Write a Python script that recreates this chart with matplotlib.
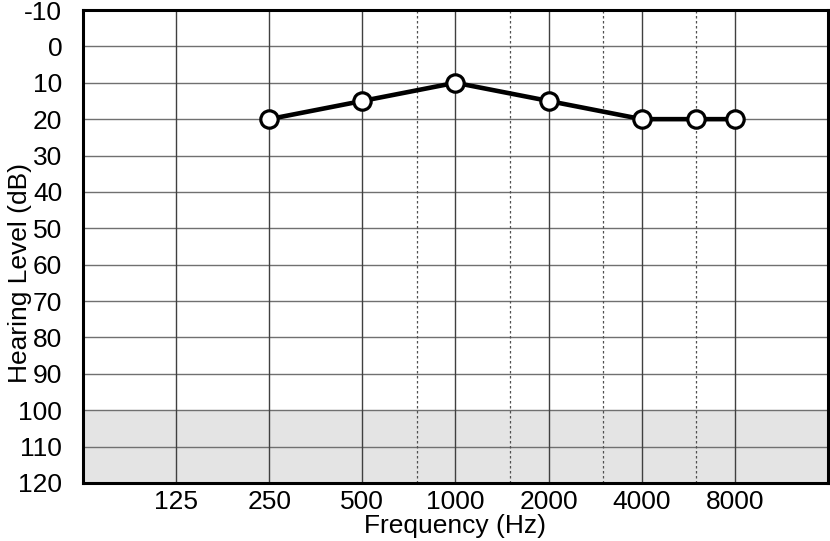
import matplotlib
matplotlib.use("Agg")
import matplotlib.pyplot as plt
from matplotlib.ticker import FixedLocator, FixedFormatter, NullLocator

plt.rcParams['font.family'] = ['Liberation Sans', 'DejaVu Sans']

freq_ticks = [125, 250, 500, 1000, 2000, 4000, 8000]
freq_labels = ["125", "250", "500", "1000", "2000", "4000", "8000"]
inter_freqs = [750, 1500, 3000, 6000]
db_ticks = list(range(-10, 121, 10))

data_freq = [250, 500, 1000, 2000, 4000, 6000, 8000]
data_db = [20, 15, 10, 15, 20, 20, 20]

FS = 19

fig = plt.figure(figsize=(8.30, 5.41), dpi=100)
ax = fig.add_axes([83/830, 58/541, 745/830, 473/541])
ax.set_xscale('log')
ax.set_xlim(62.5, 16000)
ax.set_ylim(120, -10)

ax.axhspan(100, 120, facecolor='#e4e4e4', edgecolor='none', zorder=0)

for y in db_ticks:
    ax.axhline(y, color='#707070', lw=1.0, zorder=1)
for f in freq_ticks:
    ax.axvline(f, color='#404040', lw=1.0, zorder=1)
for f in inter_freqs:
    ax.axvline(f, color='#505050', lw=0.9, ls=(0, (2, 2)), zorder=1)

ax.plot(data_freq, data_db, color='black', lw=3.3, marker='o', markersize=12.5,
        markerfacecolor='white', markeredgecolor='black', markeredgewidth=2.3, zorder=3)

ax.xaxis.set_major_locator(FixedLocator(freq_ticks))
ax.xaxis.set_major_formatter(FixedFormatter(freq_labels))
ax.xaxis.set_minor_locator(NullLocator())
ax.set_yticks(db_ticks)
ax.set_yticklabels([str(v) for v in db_ticks])
ax.tick_params(axis='x', length=0, pad=5, labelsize=FS)
ax.tick_params(axis='y', length=0, pad=15, labelsize=FS)

for s in ax.spines.values():
    s.set_linewidth(2.2)
    s.set_color('black')
    s.set_zorder(4)

ax.set_xlabel("Frequency (Hz)", fontsize=FS)
ax.xaxis.set_label_coords(0.5, -0.066)
ax.set_ylabel("Hearing Level (dB)", fontsize=FS, va='center')
ax.yaxis.set_label_coords(-0.084, 0.444)

fig.savefig("out.png", dpi=100)
